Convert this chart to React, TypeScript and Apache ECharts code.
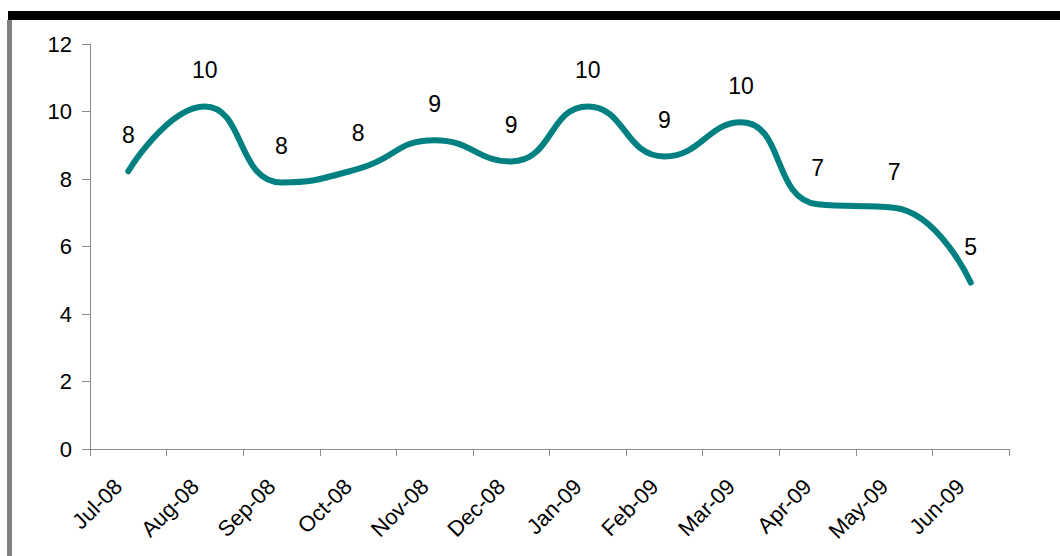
import React, { useEffect, useRef } from "react";
import * as echarts from "echarts";

const categories = ["Jul-08", "Aug-08", "Sep-08", "Oct-08", "Nov-08", "Dec-08", "Jan-09", "Feb-09", "Mar-09", "Apr-09", "May-09", "Jun-09"];
const values = [8.23, 10.15, 7.9, 8.3, 9.15, 8.52, 10.15, 8.67, 9.68, 7.25, 7.15, 4.93];
const yTicks = { min: 0, max: 12, interval: 2 };

export default function App() {
  const ref = useRef<HTMLDivElement>(null);
  useEffect(() => {
    if (!ref.current) return;
    const chart = echarts.init(ref.current, null, { renderer: "svg" });
    const font = "'Liberation Sans', Arial, sans-serif";
    chart.setOption({
      animation: false,
      backgroundColor: "#ffffff",
      textStyle: { fontFamily: font },
      graphic: [
        { type: "rect", shape: { x: 8, y: 11, width: 1052, height: 9 }, style: { fill: "#000000" } },
        { type: "rect", shape: { x: 7, y: 20, width: 5, height: 536 }, style: { fill: "#808080" } },
      ],
      grid: { left: 90, right: 51, top: 44, bottom: 107, containLabel: false },
      xAxis: {
        type: "category",
        data: categories,
        boundaryGap: true,
        axisLine: { show: true, lineStyle: { color: "#8c8c8c", width: 1 } },
        axisTick: { show: true, length: 7, lineStyle: { color: "#8c8c8c" } },
        axisLabel: { rotate: 45, fontSize: 22, color: "#000", fontFamily: font, margin: 24, interval: 0, padding: [0, 14, 0, 0] },
        splitLine: { show: false },
      },
      yAxis: {
        type: "value",
        min: yTicks.min,
        max: yTicks.max,
        interval: yTicks.interval,
        axisLine: { show: true, lineStyle: { color: "#8c8c8c", width: 1 } },
        axisTick: { show: true, length: 8, lineStyle: { color: "#8c8c8c" } },
        axisLabel: { fontSize: 22, color: "#000", fontFamily: font, margin: 18 },
        splitLine: { show: false },
      },
      series: [
        {
          type: "line",
          data: values,
          smooth: 0.5,
          symbol: "circle",
          symbolSize: 1,
          showSymbol: true,
          itemStyle: { color: "#008080" },
          lineStyle: { color: "#008080", width: 6, cap: "round" },
          label: {
            show: true,
            position: "top",
            distance: 24,
            fontSize: 23,
            color: "#000",
            fontFamily: font,
            formatter: (p: any) => String(Math.round(p.value)),
          },
        },
      ],
    });
    return () => chart.dispose();
  }, []);
  return <div ref={ref} style={{ position: "fixed", left: 0, top: 0, width: 1060, height: 556 }} />;
}
